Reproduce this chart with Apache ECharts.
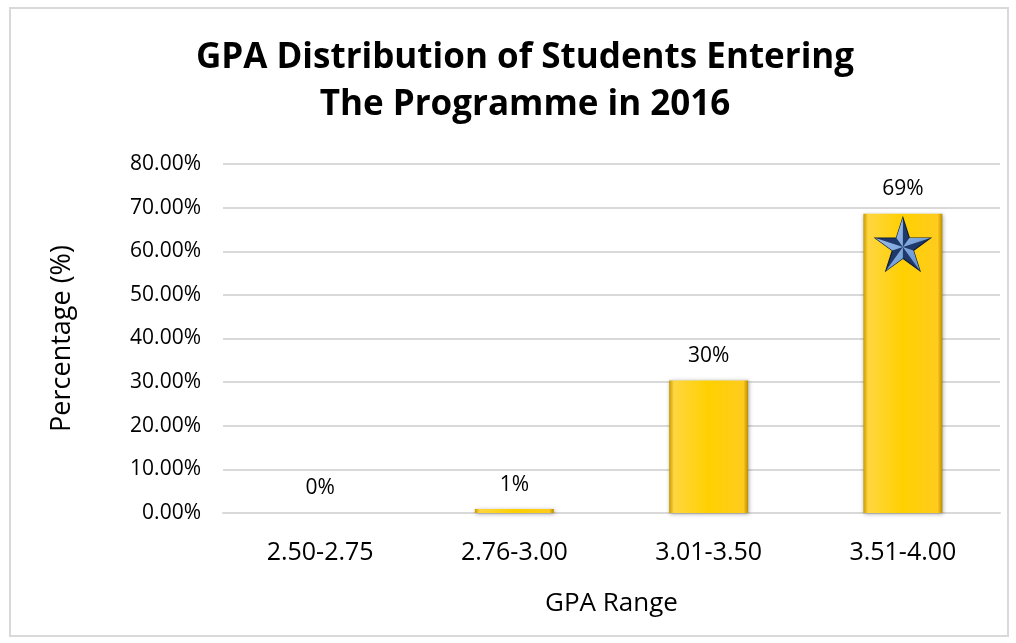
<!DOCTYPE html>
<html>
<head>
<meta charset="utf-8">
<script src="https://cdn.jsdelivr.net/npm/echarts@6/dist/echarts.min.js"></script>
<style>
html, body { margin: 0; padding: 0; background: #fff; }
#main { width: 1016px; height: 643px; }
</style>
</head>
<body>
<div id="main"></div>
<script>
// data
var gpaRanges = ['2.50-2.75', '2.76-3.00', '3.01-3.50', '3.51-4.00'];
var percentValues = [0, 0.9, 30.4, 68.6];
var yTicks = [0, 10, 20, 30, 40, 50, 60, 70, 80];
var starAt = ['3.51-4.00', 61.6];

var myChart = echarts.init(document.getElementById('main'));
var font = '"Open Sans", "Liberation Sans", sans-serif';

var goldBar = new echarts.graphic.LinearGradient(0, 0, 1, 0, [
    {offset: 0, color: '#C99A00'},
    {offset: 0.06, color: '#FFD640'},
    {offset: 0.5, color: '#FFD000'},
    {offset: 0.94, color: '#FFCB1E'},
    {offset: 1, color: '#B98D00'}
]);

// nautical star symbol: whole star (dark) + one facet of each arm (light)
function starPaths() {
    var R = 50, r = 19.1, cx = 50, cy = 50;
    function pt(rad, deg) {
        var a = (deg - 90) * Math.PI / 180;
        return (cx + rad * Math.cos(a)).toFixed(2) + ',' + (cy + rad * Math.sin(a)).toFixed(2);
    }
    var full = [], light = [];
    for (var i = 0; i < 5; i++) {
        var a = i * 72;
        full.push(pt(R, a), pt(r, a + 36));
        light.push('M' + cx + ',' + cy + ' L' + pt(R, a) + ' L' + pt(r, a - 36) + ' Z');
    }
    return {
        full: 'path://M' + full.join(' L') + ' Z',
        light: 'path://' + light.join(' ')
    };
}
var star = starPaths();

var option = {
    backgroundColor: '#fff',
    title: {
        text: 'GPA Distribution of Students Entering\nThe Programme in 2016',
        left: 520,
        textAlign: 'center',
        top: 30,
        textStyle: {
            fontFamily: font,
            fontWeight: 'bold',
            fontSize: 35,
            lineHeight: 47,
            color: '#000'
        }
    },
    grid: {
        left: 223,
        right: 16,
        top: 164,
        bottom: 130
    },
    xAxis: {
        type: 'category',
        data: gpaRanges,
        name: 'GPA Range',
        nameLocation: 'middle',
        nameGap: 78,
        nameTextStyle: {fontFamily: font, fontSize: 26, color: '#000'},
        axisLine: {lineStyle: {color: '#d9d9d9', width: 2}},
        axisTick: {show: false},
        axisLabel: {fontFamily: font, fontSize: 25, color: '#000', margin: 27}
    },
    yAxis: {
        type: 'value',
        min: yTicks[0],
        max: yTicks[yTicks.length - 1],
        interval: yTicks[1] - yTicks[0],
        name: 'Percentage (%)',
        nameLocation: 'middle',
        nameGap: 147,
        nameTextStyle: {fontFamily: font, fontSize: 27, color: '#000'},
        axisLine: {show: false},
        axisTick: {show: false},
        splitLine: {lineStyle: {color: '#d9d9d9', width: 2}},
        axisLabel: {
            fontFamily: font, fontSize: 21, color: '#000', margin: 22,
            formatter: function (v) { return v.toFixed(2) + '%'; }
        }
    },
    series: [{
        type: 'bar',
        data: percentValues,
        barWidth: 79,
        itemStyle: {
            color: goldBar,
            shadowColor: 'rgba(0,0,0,0.35)',
            shadowBlur: 4,
            shadowOffsetX: 1,
            shadowOffsetY: 1
        },
        label: {
            show: true,
            position: 'top',
            distance: 14,
            fontFamily: font,
            fontSize: 21,
            color: '#000',
            formatter: function (p) { return Math.round(p.value) + '%'; }
        },
        markPoint: {
            symbolSize: [55, 53],
            silent: true,
            label: {show: false},
            data: [{
                coord: starAt,
                symbol: star.full,
                itemStyle: {color: '#1F3A6A', borderColor: '#0E1E3C', borderWidth: 1.2}
            }, {
                coord: starAt,
                symbol: star.light,
                itemStyle: {
                    color: new echarts.graphic.LinearGradient(0, 0, 1, 1, [
                        {offset: 0, color: '#A9C8F0'},
                        {offset: 1, color: '#5B8BCB'}
                    ])
                }
            }]
        }
    }],
    graphic: [{
        type: 'rect',
        shape: {x: 10, y: 8, width: 998, height: 628},
        style: {fill: 'none', stroke: '#d9d9d9', lineWidth: 2},
        silent: true,
        z: -1
    }]
};

myChart.setOption(option);
window.addEventListener('resize', function () {
    myChart.resize();
});
</script>
</body>
</html>
